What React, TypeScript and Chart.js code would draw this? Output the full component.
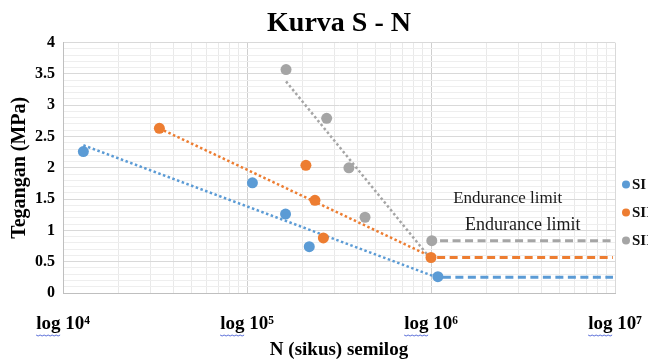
import { useEffect, useRef } from 'react';
import { Chart, registerables } from 'chart.js';

Chart.register(...registerables);

const FONT = '"Liberation Serif", "Times New Roman", serif';
const BLUE = '#5B9BD5';
const ORANGE = '#ED7D31';
const GRAY = '#A5A5A5';

// ---- data ----
const seriesLabels = ['SI', 'SII', 'SIII'];
const seriesColors = [BLUE, ORANGE, GRAY];

const siCycles = [12900, 107000, 162000, 218000, 1090000];
const siStress = [2.26, 1.76, 1.26, 0.74, 0.26];

const siiCycles = [33400, 209000, 234000, 260000, 1000000];
const siiStress = [2.63, 2.04, 1.48, 0.88, 0.567];

const siiiCycles = [163000, 271000, 358000, 438000, 1010000];
const siiiStress = [3.57, 2.79, 2.0, 1.21, 0.835];

// trend lines (dotted)
const siTrendCycles = [12900, 1030000];
const siTrendStress = [2.36, 0.27];
const siiTrendCycles = [33400, 970000];
const siiTrendStress = [2.63, 0.6];
const siiiTrendCycles = [163000, 950000];
const siiiTrendStress = [3.38, 0.62];

// endurance limit lines (dashed)
const siEndCycles = [1160000, 9750000];
const siEndStress = [0.25, 0.25];
const siiEndCycles = [1080000, 9750000];
const siiEndStress = [0.567, 0.567];
const siiiEndCycles = [1120000, 9750000];
const siiiEndStress = [0.835, 0.835];

const enduranceTexts = ['Endurance limit', 'Endurance limit'];

const xTickExponents = [4, 5, 6, 7];
const xTickMultipliers = [1, 2, 3, 4, 5, 6, 7, 8, 9];
const superscripts: Record<string, string> = { '4': '⁴', '5': '⁵', '6': '⁶', '7': '⁷' };

const chartTitle = 'Kurva S - N';
const xTitle = 'N (sikus) semilog';
const yTitle = 'Tegangan (MPa)';

const pts = (xs: number[], ys: number[]) => xs.map((x, i) => ({ x, y: ys[i] }));

const isPow10 = (v: number) => {
  const e = Math.log10(v);
  return Math.abs(e - Math.round(e)) < 1e-9;
};

const extrasPlugin = {
  id: 'extras',
  afterDatasetsDraw(chart: any) {
    const { ctx, scales } = chart;
    const x = scales.x;
    const y = scales.y;
    ctx.save();
    ctx.fillStyle = '#1a1a1a';
    ctx.textBaseline = 'middle';
    ctx.textAlign = 'left';
    ctx.font = `17px ${FONT}`;
    ctx.fillText(enduranceTexts[0], x.getPixelForValue(1320000), y.getPixelForValue(1.51));
    ctx.font = `18px ${FONT}`;
    ctx.fillText(enduranceTexts[1], x.getPixelForValue(1530000), y.getPixelForValue(1.09));
    ctx.restore();
  },
  afterDraw(chart: any) {
    const { ctx, chartArea, scales } = chart;
    ctx.save();
    // legend (clipped at the right edge like the reference)
    const offsets = [142, 170, 198];
    ctx.font = `bold 15px ${FONT}`;
    ctx.textBaseline = 'middle';
    ctx.textAlign = 'left';
    seriesLabels.forEach((lab, i) => {
      const cy = chartArea.top + offsets[i];
      const cx = chartArea.right + 11;
      ctx.beginPath();
      ctx.fillStyle = seriesColors[i];
      ctx.arc(cx, cy, 4, 0, Math.PI * 2);
      ctx.fill();
      ctx.fillStyle = '#111';
      ctx.fillText(lab, cx + 6, cy + 1);
    });
    // spell-check style wavy underline under "log"
    const x = scales.x;
    ctx.font = `bold 19px ${FONT}`;
    ctx.strokeStyle = '#5b6fd8';
    ctx.lineWidth = 1;
    x.ticks.forEach((t: any) => {
      if (!isPow10(t.value)) return;
      const label = String(t.label);
      const w = ctx.measureText(label).width;
      const lw = ctx.measureText('log').width;
      const px = x.getPixelForValue(t.value);
      const sx = px - w / 2;
      const uy = chartArea.bottom + 42;
      ctx.beginPath();
      for (let k = 0; k <= lw; k += 2) {
        const yy = uy + ((k / 2) % 2 === 0 ? 0 : 1);
        if (k === 0) ctx.moveTo(sx + k, yy);
        else ctx.lineTo(sx + k, yy);
      }
      ctx.stroke();
    });
    ctx.restore();
  },
};

export default function App() {
  const ref = useRef<HTMLCanvasElement>(null);

  useEffect(() => {
    document.body.style.margin = '0';
    const canvas = ref.current;
    if (!canvas) return;

    const pointDs = (label: string, color: string, xs: number[], ys: number[]) => ({
      label,
      data: pts(xs, ys),
      backgroundColor: color,
      borderColor: color,
      borderWidth: 0,
      pointRadius: 5.5,
      pointHoverRadius: 5.5,
      showLine: false,
      order: 0,
    });
    const lineDs = (label: string, color: string, xs: number[], ys: number[], dash: number[], width: number) => ({
      label,
      data: pts(xs, ys),
      borderColor: color,
      backgroundColor: color,
      borderWidth: width,
      borderDash: dash,
      pointRadius: 0,
      pointHoverRadius: 0,
      showLine: true,
      fill: false,
      order: 1,
    });

    const xTickValues: number[] = [];
    xTickExponents.forEach((e, i) => {
      if (i === xTickExponents.length - 1) {
        xTickValues.push(Math.pow(10, e));
      } else {
        xTickMultipliers.forEach((m) => xTickValues.push(m * Math.pow(10, e)));
      }
    });

    const chart = new Chart(canvas, {
      type: 'scatter',
      data: {
        datasets: [
          pointDs(seriesLabels[0], BLUE, siCycles, siStress),
          pointDs(seriesLabels[1], ORANGE, siiCycles, siiStress),
          pointDs(seriesLabels[2], GRAY, siiiCycles, siiiStress),
          lineDs('SI trend', BLUE, siTrendCycles, siTrendStress, [2.5, 2.5], 2.5),
          lineDs('SII trend', ORANGE, siiTrendCycles, siiTrendStress, [2.5, 2.5], 2.5),
          lineDs('SIII trend', GRAY, siiiTrendCycles, siiiTrendStress, [2.5, 2.5], 2.5),
          lineDs('SI endurance', BLUE, siEndCycles, siEndStress, [8, 4.5], 3),
          lineDs('SII endurance', ORANGE, siiEndCycles, siiEndStress, [8, 4.5], 3),
          lineDs('SIII endurance', GRAY, siiiEndCycles, siiiEndStress, [8, 4.5], 3),
        ] as any,
      },
      options: {
        responsive: false,
        animation: false,
        devicePixelRatio: 1,
        layout: { padding: { left: 0, right: 33, top: 0, bottom: 0 } },
        plugins: {
          legend: { display: false },
          tooltip: { enabled: false },
          title: {
            display: true,
            text: chartTitle,
            fullSize: false,
            color: '#000',
            font: { family: FONT, size: 28, weight: 'bold' },
            padding: { top: 7, bottom: 2 },
          } as any,
        },
        scales: {
          x: {
            type: 'logarithmic',
            position: 'bottom',
            min: 1e4,
            max: 1e7,
            afterBuildTicks: (scale: any) => {
              scale.ticks = xTickValues.map((v) => ({ value: v }));
            },
            afterFit: (scale: any) => {
              scale.height = 70;
              scale.paddingLeft = 0;
              scale.paddingRight = 0;
            },
            grid: {
              drawTicks: false,
              lineWidth: 1,
              color: (ctx: any) => {
                const v = ctx.tick ? ctx.tick.value : 0;
                if (isPow10(v)) return v === 1e5 || v === 1e6 ? '#cfcfcf' : '#d9d9d9';
                return '#e9e9e9';
              },
            },
            border: { color: '#bfbfbf' },
            ticks: {
              autoSkip: false,
              maxRotation: 0,
              minRotation: 0,
              padding: 20,
              color: '#000',
              font: { family: FONT, size: 19, weight: 'bold' },
              callback: (value: any) => {
                const v = Number(value);
                if (!isPow10(v)) return '';
                const e = String(Math.round(Math.log10(v)));
                return 'log 10' + (superscripts[e] || e);
              },
            },
            title: {
              display: true,
              text: xTitle,
              color: '#000',
              font: { family: FONT, size: 19, weight: 'bold' },
              padding: { top: 0, bottom: 2 },
            },
          } as any,
          y: {
            type: 'linear',
            min: 0,
            max: 4,
            afterFit: (scale: any) => {
              scale.width = 63;
            },
            grid: {
              drawTicks: false,
              lineWidth: 1,
              color: (ctx: any) => {
                const v = ctx.tick ? ctx.tick.value : 0;
                const r = Math.round(v * 2);
                return Math.abs(v * 2 - r) < 1e-6 ? '#d9d9d9' : '#eeeeee';
              },
            },
            border: { color: '#bfbfbf' },
            ticks: {
              stepSize: 0.1,
              autoSkip: false,
              padding: 8,
              color: '#000',
              font: { family: FONT, size: 16, weight: 'bold' },
              callback: (value: any) => {
                const v = Number(value);
                const r = Math.round(v * 2);
                if (Math.abs(v * 2 - r) < 1e-6) return String(r / 2);
                return '';
              },
            },
            title: {
              display: true,
              text: yTitle,
              color: '#000',
              font: { family: FONT, size: 20, weight: 'bold' },
              padding: { top: 8, bottom: 0 },
            },
          } as any,
        },
      },
      plugins: [extrasPlugin],
    });

    return () => chart.destroy();
  }, []);

  return (
    <div style={{ width: 648, height: 363, position: 'relative', overflow: 'hidden' }}>
      <canvas ref={ref} width={648} height={363} style={{ display: 'block' }} />
    </div>
  );
}
